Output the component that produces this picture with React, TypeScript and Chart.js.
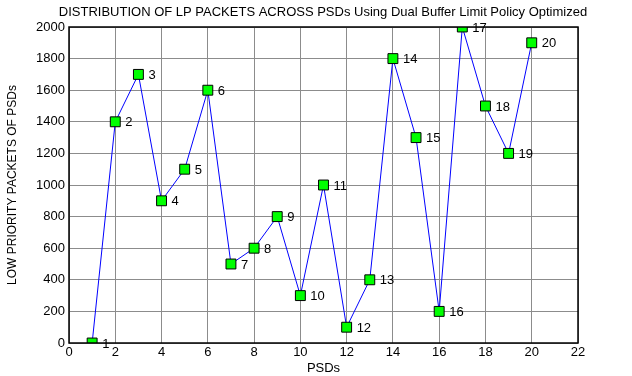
import React, { useEffect, useRef } from "react";
import { Chart, registerables } from "chart.js";

Chart.register(...registerables);

const psdIds = [1, 2, 3, 4, 5, 6, 7, 8, 9, 10, 11, 12, 13, 14, 15, 16, 17, 18, 19, 20];
const lpPackets = [0, 1400, 1700, 900, 1100, 1600, 500, 600, 800, 300, 1000, 100, 400, 1800, 1300, 200, 2000, 1500, 1200, 1900];
const titleText = "DISTRIBUTION OF LP PACKETS ACROSS PSDs Using Dual Buffer Limit Policy Optimized";
const xTitle = "PSDs";
const yTitle = "LOW PRIORITY PACKETS OF PSDs";

const FONT = "Arial, 'Liberation Sans', sans-serif";

const labelPlugin = {
  id: "pointLabels",
  afterDatasetsDraw(chart: any) {
    const ctx = chart.ctx;
    const meta = chart.getDatasetMeta(0);
    ctx.save();
    ctx.font = `13px ${FONT}`;
    ctx.fillStyle = "#000";
    ctx.textAlign = "left";
    ctx.textBaseline = "middle";
    meta.data.forEach((pt: any, i: number) => {
      ctx.fillText(String(psdIds[i]), pt.x + 10, pt.y + 1);
    });
    ctx.restore();
  },
  afterDraw(chart: any) {
    const ctx = chart.ctx;
    ctx.save();
    ctx.font = `13px ${FONT}`;
    ctx.fillStyle = "#000";
    ctx.textAlign = "center";
    ctx.textBaseline = "middle";
    ctx.fillText(titleText, 323, 12);
    const a = chart.chartArea;
    ctx.strokeStyle = "#000";
    ctx.lineWidth = 1.5;
    ctx.strokeRect(a.left, a.top, a.right - a.left, a.bottom - a.top);
    ctx.restore();
  },
};

export default function App() {
  const ref = useRef<HTMLCanvasElement>(null);
  useEffect(() => {
    document.body.style.margin = "0";
    const chart = new Chart(ref.current!, {
      type: "line",
      data: {
        labels: psdIds,
        datasets: [
          {
            data: psdIds.map((x, i) => ({ x, y: lpPackets[i] })),
            borderColor: "#0000ff",
            borderWidth: 1,
            pointStyle: "rect",
            pointRadius: 7,
            pointBackgroundColor: "#00ff00",
            pointBorderColor: "#000",
            pointBorderWidth: 1,
            tension: 0,
          },
        ],
      },
      options: {
        animation: false,
        responsive: false,
        layout: { padding: { top: 27, right: 54, left: 0, bottom: 0 } },
        plugins: { legend: { display: false }, title: { display: false }, tooltip: { enabled: false } },
        scales: {
          x: {
            type: "linear",
            min: 0,
            max: 22,
            ticks: { stepSize: 2, color: "#000", font: { size: 13, family: FONT }, padding: 2, callback: (v: any) => String(v) },
            grid: { color: "#8c8c8c", lineWidth: 1, drawTicks: false },
            border: { display: false },
            title: { display: true, text: xTitle, color: "#000", font: { size: 13, family: FONT }, padding: { top: 0, bottom: 0 } },
            afterFit: (s: any) => { s.height = 33; },
          },
          y: {
            type: "linear",
            min: 0,
            max: 2000,
            ticks: { stepSize: 200, color: "#000", font: { size: 13, family: FONT }, padding: 4, callback: (v: any) => String(v) },
            grid: { color: "#8c8c8c", lineWidth: 1, drawTicks: false },
            border: { display: false },
            title: { display: true, text: yTitle, color: "#000", font: { size: 12, family: FONT }, padding: { top: 5, bottom: 0 } },
            afterFit: (s: any) => { s.width = 69; },
          },
        },
      },
      plugins: [labelPlugin],
    } as any);
    return () => chart.destroy();
  }, []);
  return <canvas ref={ref} width={632} height={376} style={{ display: "block" }} />;
}
